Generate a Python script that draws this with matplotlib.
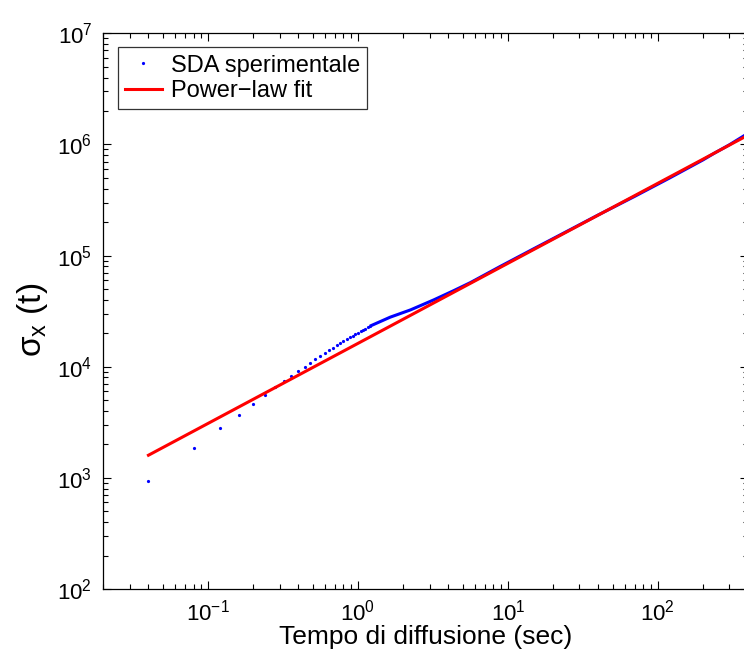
import matplotlib
matplotlib.use("Agg")
import matplotlib.pyplot as plt
import numpy as np

plt.rcParams["font.family"] = ["Liberation Sans", "DejaVu Sans"]
plt.rcParams["mathtext.fontset"] = "custom"
plt.rcParams["mathtext.rm"] = "Liberation Sans"
plt.rcParams["mathtext.it"] = "Liberation Sans:italic"

# measured SDA, sampled every 0.04 s (early samples shown as single points)
t_early = [0.04, 0.08, 0.12, 0.16, 0.20, 0.24, 0.28, 0.32, 0.36, 0.40,
           0.44, 0.48, 0.52, 0.56, 0.60, 0.64, 0.68, 0.72, 0.76, 0.80,
           0.84, 0.88, 0.92, 0.96, 1.00, 1.04, 1.08, 1.12, 1.16, 1.20]
sda_early = [938, 1858, 2795, 3707, 4624, 5534, 6500, 7450, 8225, 9100,
             9900, 10810, 11680, 12500, 13300, 14070, 14850, 15600, 16370, 17060,
             17780, 18440, 19050, 19730, 20270, 20870, 21430, 22030, 22670, 23150]

# later samples are so dense they merge into a continuous trace
t_late = [1.20, 1.64, 2.24, 3.20, 4.36, 5.63, 8.92, 14.9, 22.5,
          40, 70, 120, 200, 237, 300, 400]
sda_late = [23150, 27900, 32440, 39900, 48400, 57150, 80000, 115300, 154200,
            231700, 340400, 498900, 724400, 829800, 990800, 1258900]

# power-law fit  sigma = A * t^b
fit_A = 10 ** 4.21
fit_b = 0.72
t_fit = np.array([0.04, 400])

fig = plt.figure(figsize=(7.44, 6.55), dpi=100)
ax = fig.add_axes([0.1389, 0.1008, 0.8665, 0.8484])

blue = "#0000ff"
ax.plot(t_late, sda_late, color=blue, lw=2.2, solid_capstyle="butt")
ax.plot(t_early, sda_early, linestyle="none", marker="o", ms=2.3,
        mec="none", color=blue, label="SDA sperimentale")
ax.plot(t_fit, fit_A * t_fit ** fit_b, color="#ff0000", lw=2.2,
        label="Power\u2212law fit")

ax.set_xscale("log")
ax.set_yscale("log")
ax.set_xlim(0.02, 400)
ax.set_ylim(1e2, 1e7)

ax.tick_params(which="both", direction="in", top=True, right=True,
               labelsize=16, width=0.8)
ax.tick_params(which="major", length=6, pad=8)
ax.tick_params(which="minor", length=3.5)
for s in ax.spines.values():
    s.set_linewidth(0.9)

ax.set_xlabel("Tempo di diffusione (sec)", fontsize=19, labelpad=-1)
ax.set_ylabel("\u03c3$_\\mathrm{x}$ (t)", fontsize=24)
ax.yaxis.set_label_coords(-0.083, 0.485)

leg = ax.legend(loc="upper left", fontsize=17, frameon=True, fancybox=False,
                edgecolor="black", borderaxespad=0.6, handlelength=1.6,
                handletextpad=0.35, borderpad=0.3, labelspacing=0.15,
                markerscale=1.0)
leg.get_frame().set_linewidth(0.9)

plt.savefig("out.png", dpi=100)
plt.close()
